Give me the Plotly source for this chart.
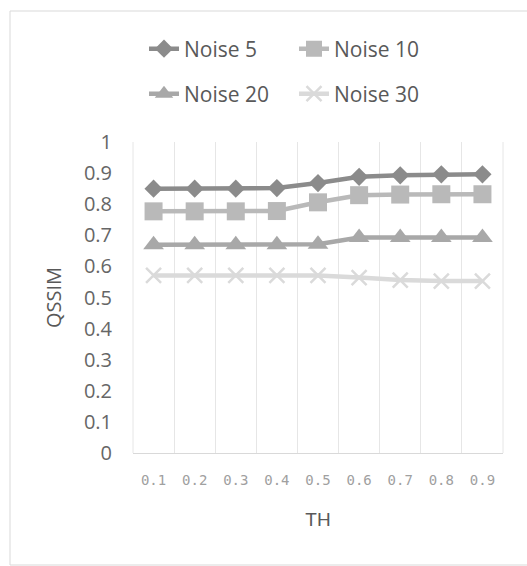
import plotly.graph_objects as go

th_labels = ["0.1", "0.2", "0.3", "0.4", "0.5", "0.6", "0.7", "0.8", "0.9"]
noise5 = [0.850, 0.850, 0.850, 0.852, 0.868, 0.888, 0.893, 0.896, 0.896]
noise10 = [0.777, 0.777, 0.777, 0.778, 0.806, 0.829, 0.831, 0.832, 0.832]
noise20 = [0.670, 0.670, 0.670, 0.670, 0.671, 0.693, 0.693, 0.693, 0.693]
noise30 = [0.571, 0.571, 0.571, 0.571, 0.571, 0.564, 0.556, 0.553, 0.553]
y_ticks = [0, 0.1, 0.2, 0.3, 0.4, 0.5, 0.6, 0.7, 0.8, 0.9, 1]
y_tick_text = ["0", "0.1", "0.2", "0.3", "0.4", "0.5", "0.6", "0.7", "0.8", "0.9", "1"]

series = [
    ("Noise 5", noise5, "#8b8b8b", "diamond", 14, "legend"),
    ("Noise 10", noise10, "#b9b9b9", "square", 18, "legend"),
    ("Noise 20", noise20, "#a8a8a8", "triangle-up", 18, "legend2"),
    ("Noise 30", noise30, "#dadada", "x-thin", 15, "legend2"),
]

fig = go.Figure()
for name, vals, color, sym, size, leg in series:
    marker = dict(symbol=sym, size=size, color=color)
    if sym == "x-thin":
        marker["line"] = dict(width=2.5, color=color)
    else:
        marker["line"] = dict(width=0)
    fig.add_trace(go.Scatter(
        x=th_labels, y=vals, name=name, mode="lines+markers",
        line=dict(color=color, width=4.5), marker=marker, legend=leg,
    ))

W, H = 527, 566
L, R, T, B = 133, 24, 142, 113
pw, ph = W - L - R, H - T - B

def px_x(p):
    return (p - L) / pw

def px_y(p):
    return (H - B - p) / ph

legend_common = dict(
    orientation="h", xanchor="left", yanchor="middle",
    font=dict(family="Open Sans", size=21, color="#595959"),
    bgcolor="rgba(0,0,0,0)", entrywidthmode="pixels", entrywidth=105,
    itemclick=False, tracegroupgap=0,
)

fig.update_layout(
    width=W, height=H,
    margin=dict(l=L, r=R, t=T, b=B, autoexpand=False),
    paper_bgcolor="white", plot_bgcolor="white",
    showlegend=True,
    legend=dict(x=px_x(144), y=px_y(49), **legend_common),
    legend2=dict(x=px_x(144), y=px_y(94), **legend_common),
    xaxis=dict(
        type="category", tickson="boundaries", showgrid=True,
        range=[-0.5, len(th_labels) - 0.5],
        gridcolor="#e6e6e6", gridwidth=1, automargin=False,
        showline=True, linecolor="#d9d9d9", linewidth=1,
        ticks="", ticklabelstandoff=14,
        tickfont=dict(family="DejaVu Sans Mono", size=14, color="#a0a0a0"),
        title=dict(text="TH", font=dict(family="Liberation Sans", size=19, color="#595959"), standoff=25),
        zeroline=False,
    ),
    yaxis=dict(
        range=[0, 1], tickvals=y_ticks, ticktext=y_tick_text,
        showgrid=False, zeroline=False, showline=False, ticks="",
        ticklabelstandoff=20, automargin=False,
        tickfont=dict(family="Open Sans", size=20, color="#666666"),
        title=dict(text="QSSIM", font=dict(family="Open Sans", size=20, color="#595959"), standoff=16),
    ),
    shapes=[
        dict(type="rect", xref="paper", yref="paper",
             x0=px_x(10), x1=px_x(540), y0=px_y(565), y1=px_y(11),
             line=dict(color="#d9d9d9", width=1), fillcolor="rgba(0,0,0,0)", layer="below"),
        dict(type="line", xref="paper", yref="paper",
             x0=1, x1=1, y0=0, y1=1, line=dict(color="#e6e6e6", width=1)),
        dict(type="line", xref="paper", yref="paper",
             x0=0, x1=0, y0=0, y1=1, line=dict(color="#e6e6e6", width=1)),
    ],
)

fig.write_html("out.html")
